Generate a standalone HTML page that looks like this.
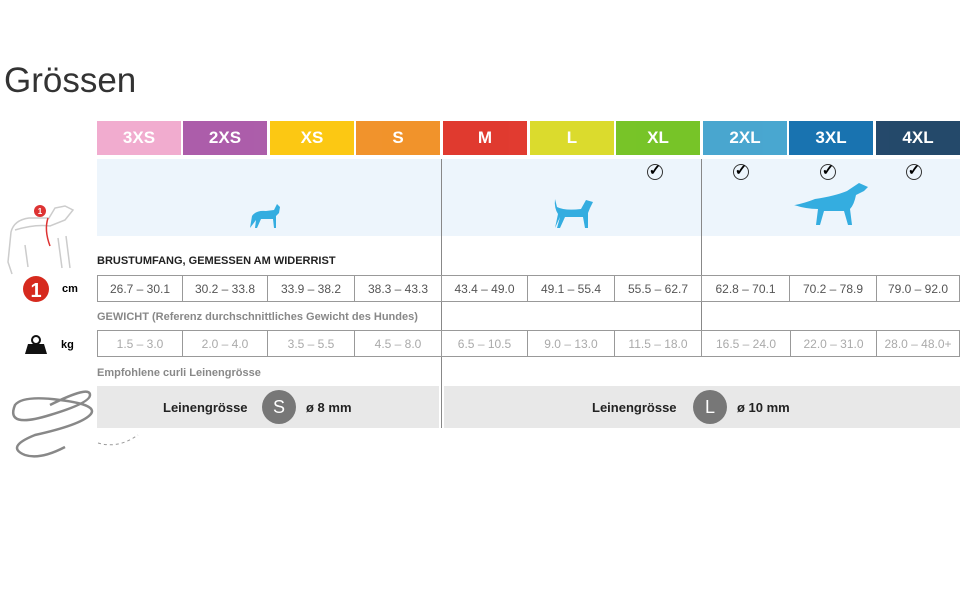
<!DOCTYPE html>
<html><head><meta charset="utf-8"><style>
body{margin:0;width:970px;height:600px;background:#fff;position:relative;overflow:hidden;font-family:"Liberation Sans",sans-serif}
.a{position:absolute}
.h{position:absolute;top:121px;height:34px;width:84px;color:#fff;font-size:17px;font-weight:bold;text-align:center;line-height:34px;opacity:.92}
.c{position:absolute;height:27px;line-height:27px;text-align:center;font-size:12px;color:#555;border:1px solid #999;box-sizing:border-box}
.w{color:#aaa}
.lbl{position:absolute;left:97px;font-size:11px;font-weight:bold}
.chk{position:absolute;top:164px;width:14px;height:14px;border:1px solid #333;border-radius:50%;font-size:15px;line-height:12px;text-align:center;font-weight:bold}
</style></head><body>
<div class="a" style="left:4px;top:61px;font-size:35px;color:#333">Grössen</div>

<div class="h" style="left:97px;background:#f0a6cb">3XS</div>
<div class="h" style="left:183px;background:#a550a3">2XS</div>
<div class="h" style="left:270px;background:#fcc400">XS</div>
<div class="h" style="left:356px;background:#f08a1a">S</div>
<div class="h" style="left:443px;background:#de2a1e">M</div>
<div class="h" style="left:530px;background:#d8d81c">L</div>
<div class="h" style="left:616px;background:#6cbf16">XL</div>
<div class="h" style="left:703px;background:#3a9fcc">2XL</div>
<div class="h" style="left:789px;background:#0668aa">3XL</div>
<div class="h" style="left:876px;background:#123a5e">4XL</div>

<div class="a" style="left:97px;top:159px;width:863px;height:77px;background:#edf5fc"></div>
<div class="a" style="left:441px;top:159px;width:1px;height:269px;background:#888"></div>
<div class="a" style="left:701px;top:159px;width:1px;height:171px;background:#888"></div>

<div class="chk" style="left:647px">✓</div>
<div class="chk" style="left:733px">✓</div>
<div class="chk" style="left:820px">✓</div>
<div class="chk" style="left:906px">✓</div>

<svg class="a" style="left:0;top:0" width="970" height="600">
<g fill="#34ade0">
<path d="M250 228 l2-12 q4-6 14-5 l8-1 3-6 3 3 -1 6 -3 3 v12 h-2 l-1-9 h-12 l-4 9 h-2 l1-8 z"/>
<path d="M555 228 l3-14 q-4-6-3-15 l2 8 q8 4 24 2 l5-9 7 2 -3 6 -2 5 v15 h-3 l-2-11 h-18 l-5 11 h-3 l3-11 z"/>
<path d="M795 205 q10-2 20-6 q20-3 32-8 l12-8 9 4 -4 4 -8 4 q-2 10 -6 14 l2 16 h-4 l-4-14 h-20 l-4 14 h-4 l2-16 q-12 0-24-4 z"/>
</g>
<g fill="none" stroke="#ccc" stroke-width="1.5">
<path d="M15 230 q20-6 35-4 l15-6 8-10 -8-4 -10 2 -6 10 -20 0 q-15 2 -18 14 l-3 30 4 12 M25 245 l3 22 M58 238 l4 30 M66 236 l4 32"/>
</g>
<path d="M48 218 q-4 12 2 28" stroke="#d33" fill="none" stroke-width="1.5"/>
<circle cx="40" cy="211" r="6" fill="#d33"/><text x="40" y="214" font-size="8" fill="#fff" text-anchor="middle" font-weight="bold" font-family="Liberation Sans">1</text>
<circle cx="36" cy="289" r="13" fill="#d62a1e"/><text x="36" y="297" font-size="20" fill="#fff" text-anchor="middle" font-weight="bold" font-family="Liberation Sans">1</text>
<path d="M25 354 l3-10 h16 l3 10 z" fill="#111"/><circle cx="36" cy="340" r="4" fill="none" stroke="#111" stroke-width="2"/>
<g fill="none" stroke="#888" stroke-width="2.5">
<path d="M50 405 q40-20 40-10 q0 8 -40 20 q-45 14 -35 -10 q8 -10 45 -5 q40 5 30 15 q-10 10 -55 20 q-30 12 -10 20 q15 5 40-8"/>
</g>
<path d="M98 443 q20 6 40-8" stroke="#999" fill="none" stroke-dasharray="3,3"/>
</svg>
<div class="a" style="left:62px;top:283px;font-size:11px;font-weight:bold">cm</div>
<div class="a" style="left:61px;top:339px;font-size:11px;font-weight:bold">kg</div>

<div class="lbl" style="top:255px;color:#222">BRUSTUMFANG, GEMESSEN AM WIDERRIST</div>
<div class="c" style="left:97px;top:275px;width:86px">26.7 – 30.1</div>
<div class="c" style="left:182px;top:275px;width:86px">30.2 – 33.8</div>
<div class="c" style="left:267px;top:275px;width:88px">33.9 – 38.2</div>
<div class="c" style="left:354px;top:275px;width:88px">38.3 – 43.3</div>
<div class="c" style="left:441px;top:275px;width:87px">43.4 – 49.0</div>
<div class="c" style="left:527px;top:275px;width:88px">49.1 – 55.4</div>
<div class="c" style="left:614px;top:275px;width:88px">55.5 – 62.7</div>
<div class="c" style="left:701px;top:275px;width:89px">62.8 – 70.1</div>
<div class="c" style="left:789px;top:275px;width:88px">70.2 – 78.9</div>
<div class="c" style="left:876px;top:275px;width:84px">79.0 – 92.0</div>

<div class="lbl" style="top:311px;color:#888">GEWICHT (Referenz durchschnittliches Gewicht des Hundes)</div>
<div class="c w" style="left:97px;top:330px;width:86px">1.5 – 3.0</div>
<div class="c w" style="left:182px;top:330px;width:86px">2.0 – 4.0</div>
<div class="c w" style="left:267px;top:330px;width:88px">3.5 – 5.5</div>
<div class="c w" style="left:354px;top:330px;width:88px">4.5 – 8.0</div>
<div class="c w" style="left:441px;top:330px;width:87px">6.5 – 10.5</div>
<div class="c w" style="left:527px;top:330px;width:88px">9.0 – 13.0</div>
<div class="c w" style="left:614px;top:330px;width:88px">11.5 – 18.0</div>
<div class="c w" style="left:701px;top:330px;width:90px">16.5 – 24.0</div>
<div class="c w" style="left:790px;top:330px;width:87px">22.0 – 31.0</div>
<div class="c w" style="left:876px;top:330px;width:84px">28.0 – 48.0+</div>

<div class="lbl" style="top:367px;color:#888">Empfohlene curli Leinengrösse</div>
<div class="a" style="left:97px;top:386px;width:342px;height:42px;background:#e8e8e8"></div>
<div class="a" style="left:444px;top:386px;width:516px;height:42px;background:#e8e8e8"></div>
<div class="a" style="left:163px;top:400px;font-size:13px;font-weight:bold;color:#222">Leinengrösse</div>
<div class="a" style="left:262px;top:390px;width:34px;height:34px;border-radius:50%;background:#777;color:#fff;font-size:18px;text-align:center;line-height:34px">S</div>
<div class="a" style="left:306px;top:400px;font-size:13px;font-weight:bold;color:#222">ø 8 mm</div>
<div class="a" style="left:592px;top:400px;font-size:13px;font-weight:bold;color:#222">Leinengrösse</div>
<div class="a" style="left:693px;top:390px;width:34px;height:34px;border-radius:50%;background:#777;color:#fff;font-size:18px;text-align:center;line-height:34px">L</div>
<div class="a" style="left:737px;top:400px;font-size:13px;font-weight:bold;color:#222">ø 10 mm</div>
</body></html>
